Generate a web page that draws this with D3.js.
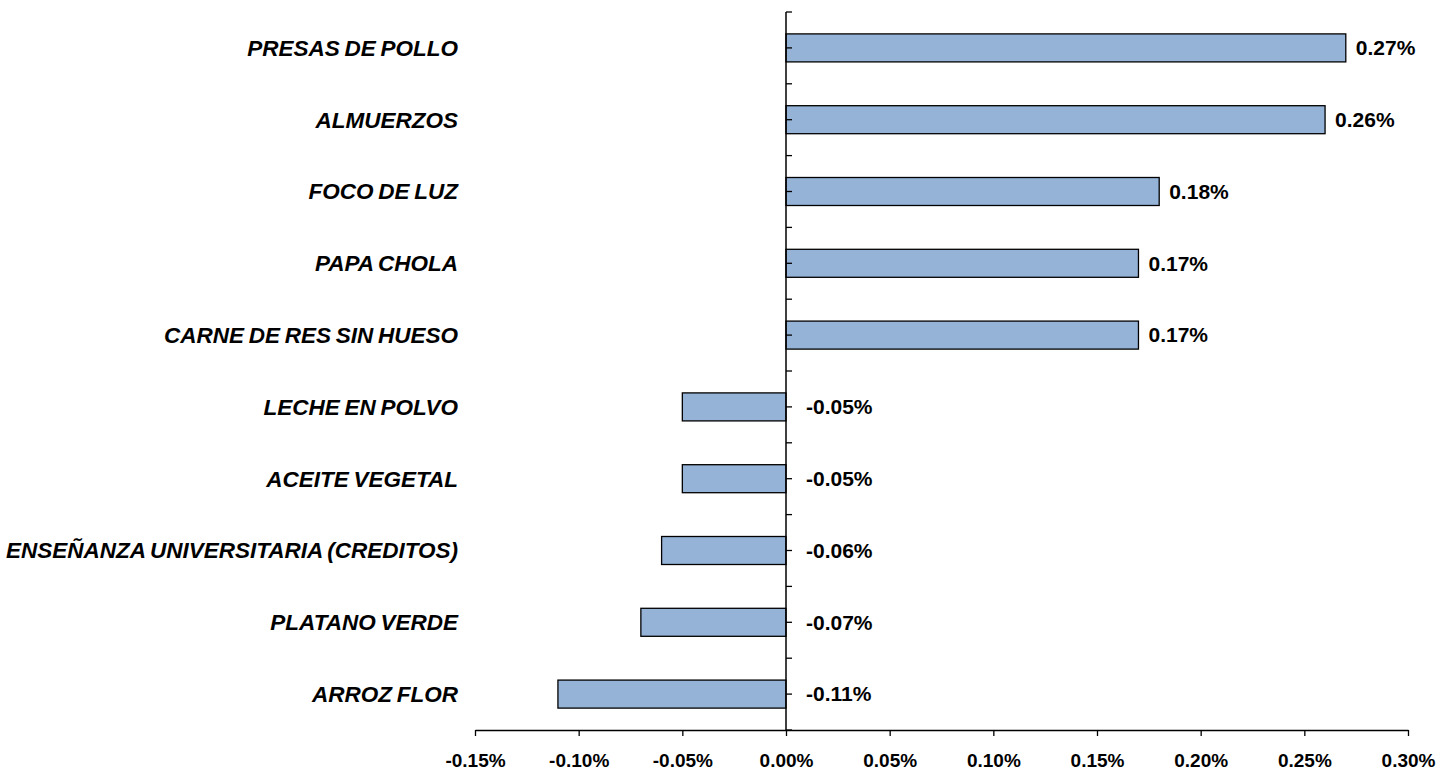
<!DOCTYPE html>
<html>
<head>
<meta charset="utf-8">
<script src="https://cdn.jsdelivr.net/npm/d3@7"></script>
<style>
  body { margin: 0; background: #fff; }
  text { font-family: "Liberation Sans", Arial, sans-serif; }
</style>
</head>
<body>
<div id="chart"></div>
<script>
// data
const categories = [
  "PRESAS DE POLLO",
  "ALMUERZOS",
  "FOCO DE LUZ",
  "PAPA CHOLA",
  "CARNE DE RES SIN HUESO",
  "LECHE EN POLVO",
  "ACEITE VEGETAL",
  "ENSEÑANZA UNIVERSITARIA (CREDITOS)",
  "PLATANO VERDE",
  "ARROZ FLOR"
];
const values = [0.27, 0.26, 0.18, 0.17, 0.17, -0.05, -0.05, -0.06, -0.07, -0.11];
const xTicks = [-0.15, -0.10, -0.05, 0.00, 0.05, 0.10, 0.15, 0.20, 0.25, 0.30];

const width = 1441, height = 779;
const margin = { top: 12, bottom: 49, left: 475, right: 33 };

const svg = d3.select("#chart").append("svg")
  .attr("width", width)
  .attr("height", height);

const x = d3.scaleLinear()
  .domain([-0.15, 0.30])
  .range([margin.left, width - margin.right]);

const y = d3.scaleBand()
  .domain(categories)
  .range([margin.top, height - margin.bottom])
  .paddingInner(0.61)
  .paddingOuter(0.305);

const fmt = d => d.toFixed(2) + "%";

// bars
svg.selectAll(".bar")
  .data(values)
  .join("rect")
  .attr("class", "bar")
  .attr("x", d => x(Math.min(0, d)))
  .attr("y", (d, i) => y(categories[i]))
  .attr("width", d => Math.abs(x(d) - x(0)))
  .attr("height", y.bandwidth())
  .attr("fill", "#95b3d7")
  .attr("stroke", "#000")
  .attr("stroke-width", 1.3);

// x axis
const xAxis = svg.append("g")
  .attr("transform", `translate(0,${height - margin.bottom})`)
  .call(d3.axisBottom(x).tickValues(xTicks).tickSize(6).tickSizeOuter(0).tickFormat(fmt));
xAxis.select(".domain").attr("stroke", "#000").attr("stroke-width", 1.3);
xAxis.selectAll(".tick line").attr("stroke", "#000").attr("stroke-width", 1.3);
xAxis.selectAll(".tick text")
  .attr("y", 24)
  .attr("font-size", 19)
  .attr("font-weight", "bold")
  .attr("fill", "#000")
  .style("font-family", "'Liberation Sans', Arial, sans-serif");

// y axis at zero, with ticks at band centers and boundaries
const step = y.step();
const yTickPos = d3.range(0, categories.length * 2 + 1).map(k => margin.top + k * step / 2);
svg.append("line")
  .attr("x1", x(0)).attr("x2", x(0))
  .attr("y1", margin.top).attr("y2", height - margin.bottom)
  .attr("stroke", "#000").attr("stroke-width", 1.5);
svg.selectAll(".ytick")
  .data(yTickPos)
  .join("line")
  .attr("class", "ytick")
  .attr("x1", x(0)).attr("x2", x(0) + 6)
  .attr("y1", d => d).attr("y2", d => d)
  .attr("stroke", "#000").attr("stroke-width", 1.3);

// category labels
svg.selectAll(".cat")
  .data(categories)
  .join("text")
  .attr("class", "cat")
  .attr("x", 458)
  .attr("y", d => y(d) + y.bandwidth() / 2)
  .attr("dy", "0.35em")
  .attr("text-anchor", "end")
  .attr("font-size", 22.5)
  .attr("word-spacing", -1.5)
  .attr("font-weight", "bold")
  .attr("font-style", "italic")
  .text(d => d);

// value labels
svg.selectAll(".val")
  .data(values)
  .join("text")
  .attr("class", "val")
  .attr("x", d => d >= 0 ? x(d) + 10 : x(0) + 20)
  .attr("y", (d, i) => y(categories[i]) + y.bandwidth() / 2)
  .attr("dy", "0.35em")
  .attr("font-size", 21)
  .attr("font-weight", "bold")
  .text(fmt);
</script>
</body>
</html>
